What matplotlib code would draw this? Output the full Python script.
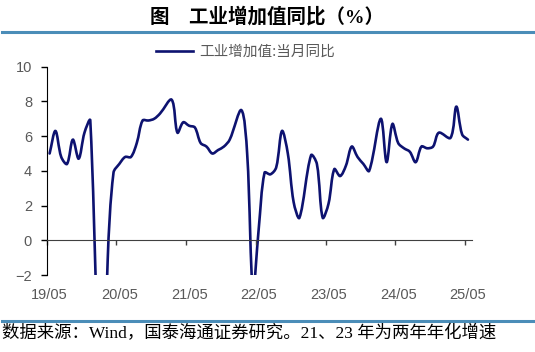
import matplotlib
matplotlib.use("Agg")
import matplotlib.pyplot as plt
from matplotlib.path import Path
from matplotlib.patches import PathPatch
from matplotlib.lines import Line2D
from matplotlib.transforms import ScaledTranslation
import numpy as np

# monthly data, Jan merged into Feb; 2021 and 2023 are two-year annualised rates
months = ['2019-05', '2019-06', '2019-07', '2019-08', '2019-09', '2019-10', '2019-11', '2019-12',
          '2020-02', '2020-03', '2020-04', '2020-05', '2020-06', '2020-07', '2020-08', '2020-09',
          '2020-10', '2020-11', '2020-12',
          '2021-02', '2021-03', '2021-04', '2021-05', '2021-06', '2021-07', '2021-08', '2021-09',
          '2021-10', '2021-11', '2021-12',
          '2022-02', '2022-03', '2022-04', '2022-05', '2022-06', '2022-07', '2022-08', '2022-09',
          '2022-10', '2022-11', '2022-12',
          '2023-02', '2023-03', '2023-04', '2023-05', '2023-06', '2023-07', '2023-08', '2023-09',
          '2023-10', '2023-11', '2023-12',
          '2024-02', '2024-03', '2024-04', '2024-05', '2024-06', '2024-07', '2024-08', '2024-09',
          '2024-10', '2024-11', '2024-12',
          '2025-02', '2025-03', '2025-04', '2025-05']
ip_yoy = [5.0, 6.3, 4.8, 4.4, 5.8, 4.7, 6.2, 6.9,
          -13.5, -1.1, 3.9, 4.4, 4.8, 4.8, 5.6, 6.9, 6.9, 7.0, 7.3,
          8.1, 6.2, 6.8, 6.6, 6.5, 5.6, 5.4, 5.0, 5.2, 5.4, 5.8,
          7.5, 5.0, -2.9, 0.7, 3.9, 3.8, 4.2, 6.3, 5.0, 2.2, 1.3,
          4.9, 4.4, 1.3, 2.1, 4.1, 3.7, 4.3, 5.4, 4.8, 4.4, 4.0,
          7.0, 4.5, 6.7, 5.6, 5.3, 5.1, 4.5, 5.4, 5.3, 5.4, 6.2,
          5.9, 7.7, 6.1, 5.8]
tick_labels = ['19/05', '20/05', '21/05', '22/05', '23/05', '24/05', '25/05']

title = '图    工业增加值同比（%）'
legend_label = '工业增加值:当月同比'
source = '数据来源：Wind，国泰海通证券研究。21、23 年为两年年化增速'

line_color = '#0d1270'
rule_color = '#4b8db8'
grey = '#595959'

# month index relative to 2019/05, points sit in the middle of the month
x = np.array([(int(m[:4]) - 2019) * 12 + int(m[5:]) - 5 for m in months]) + 0.5
y = np.array(ip_yoy)

fig = plt.figure(figsize=(5.35, 3.52), dpi=100)
ax = fig.add_axes([0.0873, 0.2187, 0.7944, 0.5918])
ax.set_xlim(0, 73.15)
ax.set_ylim(-2, 10)

# smoothed line: bezier segments, handle length weighted by segment length on screen
pts = np.column_stack([x, y])
scr = ax.transData.transform(pts)
ext = np.vstack([pts[0], pts, pts[-1]])
escr = np.vstack([scr[0], scr, scr[-1]])


def ctrl(i):
    # tangent at point i (index into pts) split into in/out handles
    a, b, c = ext[i], ext[i + 1], ext[i + 2]
    d_in = np.hypot(*(escr[i + 1] - escr[i]))
    d_out = np.hypot(*(escr[i + 2] - escr[i + 1]))
    tot = d_in + d_out if d_in + d_out > 0 else 1
    t = c - a
    return b - t * d_in / tot / 3, b + t * d_out / tot / 3


handles = [ctrl(i) for i in range(len(pts))]
verts = [pts[0]]
codes = [Path.MOVETO]
for i in range(len(pts) - 1):
    verts += [handles[i][1], handles[i + 1][0], pts[i + 1]]
    codes += [Path.CURVE4] * 3
ax.add_patch(PathPatch(Path(verts, codes), fill=False, edgecolor=line_color,
                       lw=1.9, capstyle='round', joinstyle='round'))

ax.set_yticks(range(-2, 11, 2))
ax.set_xticks(range(0, 73, 12))
ax.set_xticklabels(tick_labels)

for s in ['top', 'right']:
    ax.spines[s].set_visible(False)
ax.spines['bottom'].set_position(('data', 0))
ax.spines['bottom'].set_color('#404040')
ax.spines['left'].set_color('black')

ax.tick_params(axis='y', direction='out', length=4, width=1, pad=6.5,
               labelsize=10.5, labelcolor=grey, colors='black')
ax.tick_params(axis='x', direction='out', length=3.5, width=1, pad=30.5,
               labelsize=10.5, labelcolor=grey, colors='#404040')
for lab in ax.get_yticklabels() + ax.get_xticklabels():
    lab.set_fontfamily('Liberation Sans')
for lab in ax.get_xticklabels():
    lab.set_transform(lab.get_transform() + ScaledTranslation(3 / 100, 0, fig.dpi_scale_trans))

handle = Line2D([], [], color=line_color, lw=1.9)
fig.legend([handle], [legend_label], loc='center', bbox_to_anchor=(0.459, 0.852),
           frameon=False, handlelength=2.5, handletextpad=0.45,
           prop={'family': 'Noto Sans CJK SC', 'size': 10.5}, labelcolor=grey)

fig.text(0.5, 0.952, title, ha='center', va='center', fontsize=14, fontweight='bold',
         family=['Liberation Serif', 'Noto Sans CJK SC'])
fig.text(0.004, 0.053, source, ha='left', va='center', fontsize=12.5,
         family=['Liberation Serif', 'Noto Sans CJK SC'])

fig.add_artist(Line2D([0.004, 0.996], [0.91, 0.91], color=rule_color, lw=2.2))
fig.add_artist(Line2D([0.004, 0.996], [0.088, 0.088], color=rule_color, lw=2.2))

fig.savefig('out.png', dpi=100)
